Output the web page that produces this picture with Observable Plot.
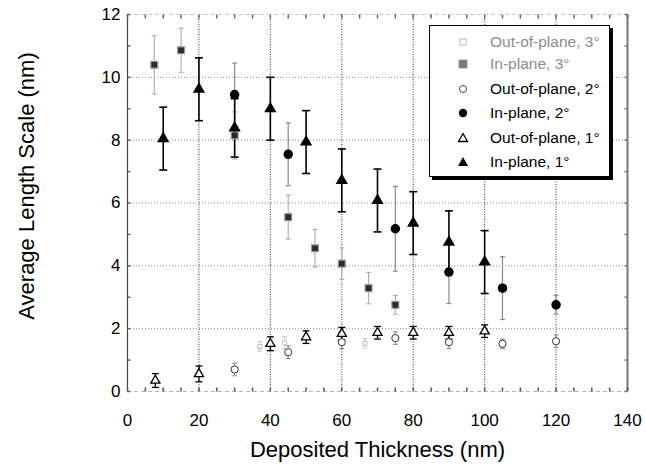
<!DOCTYPE html>
<html><head><meta charset="utf-8">
<script src="https://cdn.jsdelivr.net/npm/d3@7"></script>
<script src="https://cdn.jsdelivr.net/npm/@observablehq/plot@0.6"></script>
<style>
body{margin:0;background:#fff;font-family:"Liberation Sans",Arial,Helvetica,sans-serif;}
#wrap{position:relative;width:646px;height:473px;}
#legend{position:absolute;left:429px;top:25px;width:179px;height:150px;border:1.5px solid #000;box-shadow:3px 3px 0 #000;background:#fff;}
.row{position:absolute;left:0;height:20px;width:175px;font-size:15.5px;line-height:20px;}
.row svg{position:absolute;left:26px;top:3px;}
.row span{position:absolute;left:60px;top:0;white-space:nowrap;}
</style></head>
<body>
<div id="wrap"><div id="chart"></div><div id="legend"></div></div>
<script>
// ---- data ----
const xIn1 = [10, 20, 30, 40, 50, 60, 70, 80, 90, 100];
const yIn1 = [8.05, 9.62, 8.39, 9.0, 7.94, 6.72, 6.08, 5.36, 4.75, 4.12];
const eIn1 = [1.0, 1.0, 0.93, 1.0, 1.0, 1.0, 1.0, 1.0, 1.0, 1.0];

const xOut1 = [7.8, 20, 40, 50, 60, 70, 80, 90, 100];
const yOut1 = [0.35, 0.56, 1.52, 1.73, 1.84, 1.87, 1.87, 1.87, 1.92];
const eOut1 = [0.22, 0.25, 0.22, 0.2, 0.2, 0.2, 0.2, 0.2, 0.2];

const xIn2 = [30, 45, 75, 90, 105, 120];
const yIn2 = [9.45, 7.55, 5.18, 3.80, 3.29, 2.76];
const eIn2 = [1.0, 1.0, 1.35, 1.0, 1.0, 0.3];

const xOut2 = [30, 45, 60, 75, 90, 105, 120];
const yOut2 = [0.70, 1.25, 1.57, 1.70, 1.57, 1.52, 1.60];
const eOut2 = [0.2, 0.2, 0.2, 0.2, 0.2, 0.15, 0.2];

const xIn3 = [7.5, 15, 30, 45, 52.5, 60, 67.5, 75];
const yIn3 = [10.4, 10.86, 8.15, 5.55, 4.56, 4.07, 3.29, 2.76];
const eIn3 = [0.93, 0.7, 0.75, 0.7, 0.6, 0.5, 0.5, 0.3];

const xOut3 = [37, 44, 66.5];
const yOut3 = [1.43, 1.55, 1.53];
const eOut3 = [0.15, 0.2, 0.15];

const xTicks = [0, 20, 40, 60, 80, 100, 120, 140];
const yTicks = [0, 2, 4, 6, 8, 10, 12];
const xGrid = [20, 40, 60, 80, 100, 120];
const yGrid = [2, 4, 6, 8, 10];
const xMinor = d3.range(0, 141, 5);
const yMinor = d3.range(0, 13, 1);

const legendLabels = ["Out-of-plane, 3°", "In-plane, 3°", "Out-of-plane, 2°", "In-plane, 2°", "Out-of-plane, 1°", "In-plane, 1°"];

// ---- build tables ----
const mk = (xs, ys, es) => xs.map((x, i) => ({x, y: ys[i], e: es[i]}));
const in1 = mk(xIn1, yIn1, eIn1), out1 = mk(xOut1, yOut1, eOut1);
const in2 = mk(xIn2, yIn2, eIn2), out2 = mk(xOut2, yOut2, eOut2);
const in3 = mk(xIn3, yIn3, eIn3), out3 = mk(xOut3, yOut3, eOut3);

// custom line symbols (length from r)
const len = s => Math.sqrt(s / Math.PI);
const capSym = {draw(c, s){const w = len(s); c.moveTo(-w, 0); c.lineTo(w, 0);}};
const tickUp = {draw(c, s){const l = len(s); c.moveTo(0, 0); c.lineTo(0, -l);}};
const tickDown = {draw(c, s){const l = len(s); c.moveTo(0, 0); c.lineTo(0, l);}};
const tickRight = {draw(c, s){const l = len(s); c.moveTo(0, 0); c.lineTo(l, 0);}};
const tickLeft = {draw(c, s){const l = len(s); c.moveTo(0, 0); c.lineTo(-l, 0);}};

const errMarks = (data, color, width, capColor, capR) => [
  Plot.ruleX(data, {x: "x", y1: d => d.y - d.e, y2: d => d.y + d.e, stroke: color, strokeWidth: width}),
  ...(capColor ? [
    Plot.dot(data, {x: "x", y: d => d.y - d.e, symbol: capSym, r: capR, stroke: capColor, fill: "none", strokeWidth: width}),
    Plot.dot(data, {x: "x", y: d => d.y + d.e, symbol: capSym, r: capR, stroke: capColor, fill: "none", strokeWidth: width})
  ] : [])
];

const chart = Plot.plot({
  width: 646, height: 473,
  marginLeft: 127, marginRight: 19, marginTop: 14, marginBottom: 82,
  style: {fontFamily: '"Liberation Sans", Arial, Helvetica, sans-serif', background: "#fff", color: "#000"},
  x: {domain: [0, 140]},
  y: {domain: [0, 12]},
  marks: [
    Plot.ruleY(yGrid, {stroke: "#8a8a8a", strokeDasharray: "1,2", strokeWidth: 1}),
    Plot.ruleX(xGrid, {stroke: "#3a3a3a", strokeDasharray: "1,1.5", strokeWidth: 1}),
    Plot.ruleY([0], {stroke: "#b5b5b5", strokeDasharray: "4,3"}),
    Plot.ruleY([12], {stroke: "#c5c5c5", strokeDasharray: "4,3"}),
    Plot.ruleX([0], {stroke: "#444", strokeWidth: 1.2}),
    Plot.ruleX([140], {stroke: "#777", strokeWidth: 2}),
    Plot.dot(xMinor, {x: d => d, y: () => 0, symbol: tickUp, r: 4, stroke: "#555", fill: "none"}),
    Plot.dot(xMinor, {x: d => d, y: () => 12, symbol: tickDown, r: 4, stroke: "#666", fill: "none"}),
    Plot.dot(yMinor, {x: () => 0, y: d => d, symbol: tickRight, r: 3, stroke: "#666", fill: "none"}),
    Plot.dot(yMinor, {x: () => 140, y: d => d, symbol: tickLeft, r: 3, stroke: "#777", fill: "none"}),
    Plot.axisX(xTicks, {tickSize: 0, tickPadding: 22, fontSize: 17, label: null}),
    Plot.axisY(yTicks, {tickSize: 0, tickPadding: 7, fontSize: 17, label: null}),
    Plot.text(["Deposited Thickness (nm)"], {frameAnchor: "bottom", dy: 65, fontSize: 22}),
    Plot.text(["Average Length Scale (nm)"], {frameAnchor: "left", textAnchor: "middle", dx: -101, dy: -17, rotate: -90, fontSize: 22}),
    // error bars
    ...errMarks(out3, "#c8c8c8", 1, "#c8c8c8", 2.5),
    ...errMarks(in3, "#b0b0b0", 1.2, "#b0b0b0", 2.5),
    ...errMarks(in2, "#8a8a8a", 1.2, "#8a8a8a", 2.5),
    ...errMarks(out2, "#8a8a8a", 1, "#8a8a8a", 2.5),
    ...errMarks(in1, "#000", 1.6, "#000", 4),
    ...errMarks(out1, "#000", 1.3, "#000", 3.5),
    // points
    Plot.dot(out3, {x: "x", y: "y", symbol: "square", r: 2.2, stroke: "#bbb", fill: "#fff", strokeWidth: 1}),
    Plot.dot(in3, {x: "x", y: "y", symbol: "square", r: 3.9, fill: "#2a2a2a", stroke: "#9a9a9a", strokeWidth: 1.2}),
    Plot.dot(out2, {x: "x", y: "y", symbol: "circle", r: 3.6, fill: "#fff", stroke: "#333", strokeWidth: 1}),
    Plot.dot(in2, {x: "x", y: "y", symbol: "circle", r: 4, fill: "#000", stroke: "#000"}),
    Plot.dot(out1, {x: "x", y: "y", symbol: "triangle", r: 3.4, fill: "#fff", stroke: "#000", strokeWidth: 1.3}),
    Plot.dot(in1, {x: "x", y: "y", symbol: "triangle", r: 3.6, fill: "#000", stroke: "#000"})
  ]
});
document.getElementById("chart").appendChild(chart);

// ---- legend ----
const legendMarkers = [
  '<rect x="4" y="4" width="6" height="6" fill="#fff" stroke="#bbb"/>',
  '<rect x="3" y="3" width="8" height="8" fill="#777" stroke="#999"/>',
  '<circle cx="7" cy="7" r="3.5" fill="#fff" stroke="#444"/>',
  '<circle cx="7" cy="7" r="4.2" fill="#000"/>',
  '<path d="M7,2.5 L11.5,10.5 L2.5,10.5 Z" fill="#fff" stroke="#000" stroke-width="1.3"/>',
  '<path d="M7,2 L12,11 L2,11 Z" fill="#000"/>'
];
const legendColors = ["#8c8c8c", "#8c8c8c", "#000", "#000", "#000", "#000"];
const rowTops = [6, 28, 53, 77, 102, 126];
const lg = document.getElementById("legend");
legendLabels.forEach((t, i) => {
  const r = document.createElement("div");
  r.className = "row";
  r.style.top = rowTops[i] + "px";
  r.innerHTML = `<svg width="14" height="14">${legendMarkers[i]}</svg><span style="color:${legendColors[i]}">${t}</span>`;
  lg.appendChild(r);
});
</script>
</body></html>
